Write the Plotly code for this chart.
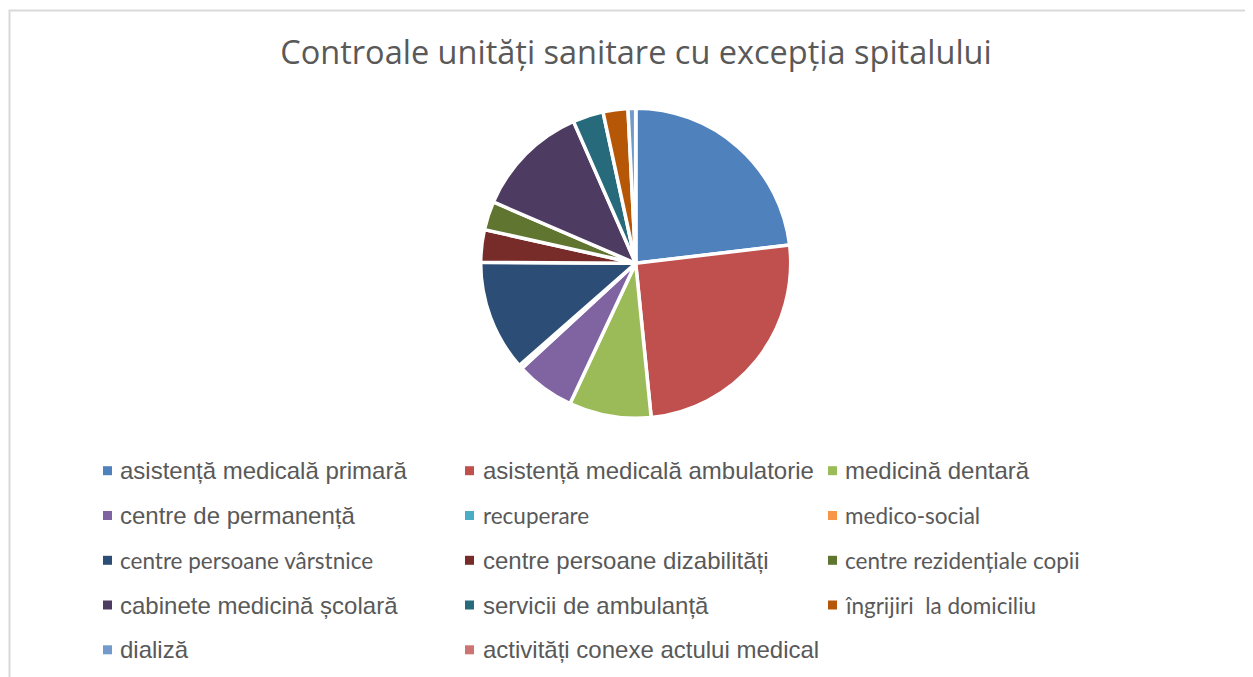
import plotly.graph_objects as go

# pagina are o margine de 8px, figura se micsoreaza ca sa incapa in fereastra
OFF = 8
W, H = 1253 - OFF, 677 - OFF

titlu = "Controale unități sanitare cu excepția spitalului"

categorii = [
    "asistență medicală primară",
    "asistență medicală ambulatorie",
    "medicină dentară",
    "centre de permanență",
    "recuperare",
    "medico-social",
    "centre persoane vârstnice",
    "centre persoane dizabilități",
    "centre rezidențiale copii",
    "cabinete medicină școlară",
    "servicii de ambulanță",
    "îngrijiri  la domiciliu",
    "dializă",
    "activități conexe actului medical",
]
valori = [116, 127, 43, 31, 2, 0, 58, 17, 15, 60, 16, 13, 4, 0]
culori = [
    "#4F81BD", "#C0504D", "#9BBB59", "#8064A2", "#4BACC6", "#F79646", "#2C4D75",
    "#772C2A", "#5F7530", "#4D3B62", "#276A7C", "#B65708", "#729ACA", "#CD7371",
]
# in original unele etichete sunt scrise cu Calibri, restul cu Arial
calibri = [False, False, False, False, True, True, True, False, True, False, False, True, False, False]


def px(x):
    return (x - OFF) / W


def py(y):
    return 1 - (y - OFF) / H


fig = go.Figure()

cx, cy, r = 635.7, 263.3, 155
fig.add_trace(go.Pie(
    labels=categorii,
    values=valori,
    marker=dict(colors=culori, line=dict(color="white", width=3.5)),
    sort=False,
    direction="clockwise",
    rotation=0,
    textinfo="none",
    showlegend=False,
    domain=dict(x=[px(cx - r), px(cx + r)], y=[py(cy + r), py(cy - r)]),
))

# legenda pe 3 coloane, construita manual
col_marker = [103, 465, 828]
col_text = [118, 481, 843]
rand_y = [470.7, 515.5, 560.3, 605, 649.8]
shapes = []
annotations = []
for i, (nume, cul) in enumerate(zip(categorii, culori)):
    rnd, col = divmod(i, 3)
    x0 = col_marker[col]
    yc = rand_y[rnd]
    shapes.append(dict(
        type="rect", xref="paper", yref="paper",
        x0=px(x0), x1=px(x0 + 9), y0=py(yc + 4.5), y1=py(yc - 4.5),
        fillcolor=cul, line=dict(width=0),
    ))
    if calibri[i]:
        fnt = dict(family="Lato", size=22.5, color="#595959")
    else:
        fnt = dict(family="Liberation Sans, Arial", size=24, color="#595959")
    annotations.append(dict(
        text=nume.replace("  ", "\u00a0 "), xref="paper", yref="paper",
        x=px(col_text[col]), y=py(yc), xanchor="left", yanchor="middle",
        showarrow=False, font=fnt,
    ))

# chenar (doar sus si stanga sunt vizibile)
shapes.append(dict(
    type="path", xref="paper", yref="paper",
    path=f"M {px(9.5)} {py(690)} L {px(9.5)} {py(10.5)} L {px(1260)} {py(10.5)}",
    line=dict(color="#D9D9D9", width=2),
))

fig.update_layout(
    width=W,
    height=H,
    margin=dict(l=0, r=0, t=0, b=0),
    paper_bgcolor="white",
    plot_bgcolor="white",
    title=dict(
        text=titlu, x=px(636), xanchor="center", y=py(53), yanchor="middle",
        font=dict(family="Open Sans", size=32.5, color="#595959"),
    ),
    shapes=shapes,
    annotations=annotations,
)

fig.write_html("out.html")
